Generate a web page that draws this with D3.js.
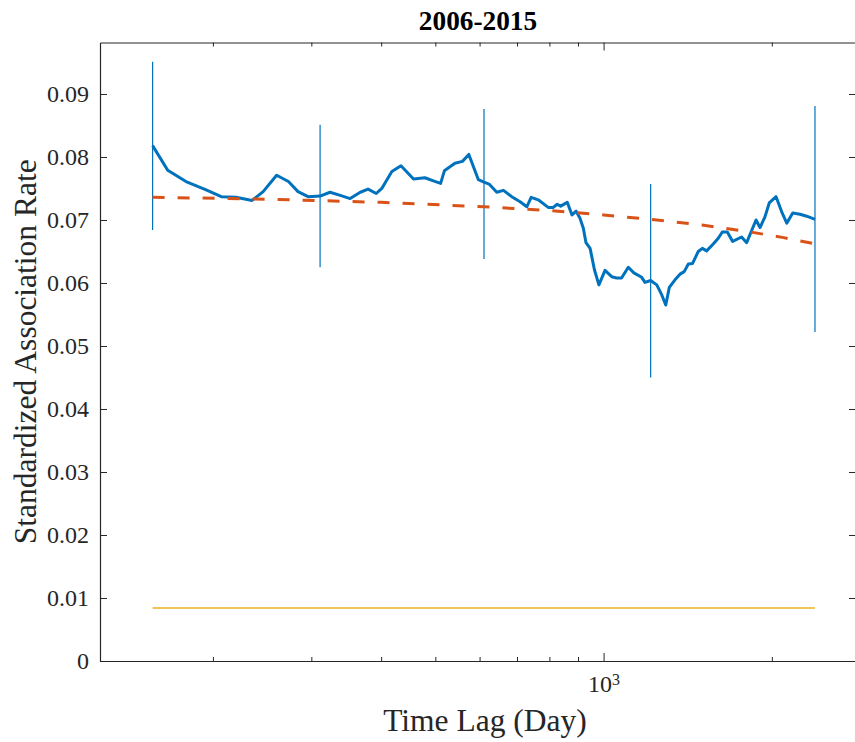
<!DOCTYPE html>
<html>
<head>
<meta charset="utf-8">
<script src="https://cdn.jsdelivr.net/npm/d3@7/dist/d3.min.js"></script>
<style>
  html, body { margin: 0; padding: 0; background: #fff; }
  svg { display: block; }
  svg text { font-family: "Liberation Serif", "Times New Roman", serif; }
</style>
</head>
<body>
<svg id="chart" width="855" height="742"></svg>
<script>
// Standardized association rate against time lag (days), 2006-2015
const lagDays = [
  156,166,179,194,207,220,235,246,260,273,
  284,296,311,324,338,352,367,379,392,401,
  418,434,457,479,496,511,519,542,559,574,
  597,611,624,644,662,685,709,729,742,764,
  796,813,826,838,861,878,893,907,920,930,
  946,963,981,1006,1034,1055,1077,1107,1133,1170,
  1186,1214,1245,1271,1292,1311,1342,1370,1394,1418,
  1443,1477,1502,1529,1571,1604,1631,1665,1702,1766,
  1803,1836,1874,1905,1944,1979,2035,2083,2127,2180,
  2246,2309,2389
];
const associationRate = [
  0.0818,0.0779,0.0761,0.0748,0.0737,0.0736,0.0731,0.0745,0.0771,0.0761,
  0.0745,0.0737,0.0738,0.0744,0.0739,0.0734,0.0744,0.0749,0.0742,0.0750,
  0.0777,0.0786,0.0765,0.0767,0.0762,0.0758,0.0778,0.0790,0.0793,0.0804,
  0.0764,0.0760,0.0757,0.0744,0.0747,0.0737,0.0729,0.0721,0.0736,0.0732,
  0.0720,0.0720,0.0725,0.0722,0.0728,0.0708,0.0714,0.0703,0.0687,0.0664,
  0.0655,0.0621,0.0597,0.0620,0.0610,0.0608,0.0608,0.0625,0.0616,0.0609,
  0.0601,0.0604,0.0597,0.0581,0.0565,0.0593,0.0605,0.0614,0.0618,0.0630,
  0.0631,0.0650,0.0655,0.0651,0.0662,0.0671,0.0681,0.0681,0.0666,0.0673,
  0.0664,0.0681,0.0700,0.0688,0.0705,0.0727,0.0737,0.0713,0.0695,0.0711,
  0.0709,0.0706,0.0701
];

// error bars at selected lags
const errLag  = [156, 311, 611, 1214, 2389];
const errLow  = [0.0684, 0.0625, 0.0638, 0.0450, 0.0522];
const errHigh = [0.0951, 0.0851, 0.0876, 0.0757, 0.0881];

// fitted trend (dashed)
const trendLag  = [156, 250, 400, 611, 800, 1000, 1214, 1500, 1800, 2100, 2389];
const trendRate = [0.0736, 0.0733, 0.0728, 0.0721, 0.0715, 0.0708, 0.0701, 0.0692, 0.0682, 0.0672, 0.0662];

// null-model level
const nullLag  = [156, 2389];
const nullRate = [0.0084, 0.0084];

// axis ticks
const xMinorTicks = [200, 300, 400, 500, 600, 700, 800, 900, 2000];
const xMajorTicks = [1000];
const yTicks = [0, 0.01, 0.02, 0.03, 0.04, 0.05, 0.06, 0.07, 0.08, 0.09];
const yTickLabels = ["0", "0.01", "0.02", "0.03", "0.04", "0.05", "0.06", "0.07", "0.08", "0.09"];

const titleText = "2006-2015";
const xLabel = "Time Lag (Day)";
const yLabel = "Standardized Association Rate";

const plot = { left: 100, right: 856, top: 42.5, bottom: 661 };
const axisColor = "#262626";
const serif = '"Liberation Serif", "Times New Roman", serif';

const svg = d3.select("#chart");

const x = d3.scaleLog().domain([125.6, 2829]).range([plot.left, plot.right]);
const y = d3.scaleLinear().domain([0, 0.09817]).range([plot.bottom, plot.top]);

// error bars
svg.append("g")
  .selectAll("line")
  .data(errLag.map((d, i) => ({ lag: d, lo: errLow[i], hi: errHigh[i] })))
  .join("line")
  .attr("x1", d => x(d.lag)).attr("x2", d => x(d.lag))
  .attr("y1", d => y(d.lo)).attr("y2", d => y(d.hi))
  .attr("stroke", "#0072BD")
  .attr("stroke-width", 1.2);

const series = lagDays.map((d, i) => ({ lag: d, v: associationRate[i] }));
const line = d3.line().x(d => x(d.lag)).y(d => y(d.v));

svg.append("path")
  .datum(series)
  .attr("d", line)
  .attr("fill", "none")
  .attr("stroke", "#0072BD")
  .attr("stroke-width", 3)
  .attr("stroke-linejoin", "round");

svg.append("path")
  .datum(trendLag.map((d, i) => ({ lag: d, v: trendRate[i] })))
  .attr("d", line)
  .attr("fill", "none")
  .attr("stroke", "#D95319")
  .attr("stroke-width", 3)
  .attr("stroke-dasharray", "12,13");

svg.append("path")
  .datum(nullLag.map((d, i) => ({ lag: d, v: nullRate[i] })))
  .attr("d", line)
  .attr("fill", "none")
  .attr("stroke", "#EDB120")
  .attr("stroke-width", 1.5);

// axes (ticks point inward, MATLAB box style)
function styleAxis(g) {
  g.attr("font-family", null).attr("font-size", null);
  g.selectAll(".domain").attr("stroke", axisColor).attr("stroke-width", 1.2);
  g.selectAll(".tick line").attr("stroke", axisColor).attr("stroke-width", 1);
  g.selectAll(".tick text")
    .attr("fill", axisColor)
    .style("font-family", serif)
    .style("font-size", "24px");
}

svg.append("g")
  .attr("transform", `translate(0,${plot.bottom})`)
  .call(d3.axisBottom(x).tickValues(xMinorTicks).tickSize(-4).tickSizeOuter(0).tickFormat(""))
  .call(styleAxis);

const xMajor = svg.append("g")
  .attr("transform", `translate(0,${plot.bottom})`)
  .call(d3.axisBottom(x).tickValues(xMajorTicks).tickSize(-8).tickSizeOuter(0).tickPadding(14).tickFormat(() => "10"))
  .call(styleAxis);
xMajor.select(".domain").remove();
xMajor.selectAll(".tick text")
  .attr("dy", "0.71em")
  .append("tspan")
  .style("font-size", "16px")
  .attr("dy", "-0.45em")
  .text("3");

svg.append("g")
  .attr("transform", `translate(0,${plot.top})`)
  .call(d3.axisTop(x).tickValues(xMinorTicks).tickSize(-4).tickSizeOuter(0).tickFormat(""))
  .call(styleAxis);
const xTopMajor = svg.append("g")
  .attr("transform", `translate(0,${plot.top})`)
  .call(d3.axisTop(x).tickValues(xMajorTicks).tickSize(-8).tickSizeOuter(0).tickFormat(""))
  .call(styleAxis);
xTopMajor.select(".domain").remove();

svg.append("g")
  .attr("transform", `translate(${plot.left},0)`)
  .call(d3.axisLeft(y).tickValues(yTicks).tickSize(-7).tickSizeOuter(0).tickPadding(11)
    .tickFormat((d, i) => yTickLabels[i]))
  .call(styleAxis);

svg.append("g")
  .attr("transform", `translate(${plot.right},0)`)
  .call(d3.axisRight(y).tickValues(yTicks).tickSize(-7).tickSizeOuter(0).tickFormat(""))
  .call(styleAxis);

// title and axis labels
svg.append("text")
  .attr("x", (plot.left + plot.right) / 2)
  .attr("y", 30)
  .attr("text-anchor", "middle")
  .style("font-size", "27.3px")
  .attr("font-weight", "bold")
  .attr("fill", "#000")
  .text(titleText);

svg.append("text")
  .attr("x", 485)
  .attr("y", 731)
  .attr("text-anchor", "middle")
  .style("font-size", "31.5px")
  .attr("fill", axisColor)
  .text(xLabel);

svg.append("text")
  .attr("transform", `translate(36,${(plot.top + plot.bottom) / 2}) rotate(-90)`)
  .attr("text-anchor", "middle")
  .style("font-size", "31.5px")
  .attr("fill", axisColor)
  .text(yLabel);
</script>
</body>
</html>
